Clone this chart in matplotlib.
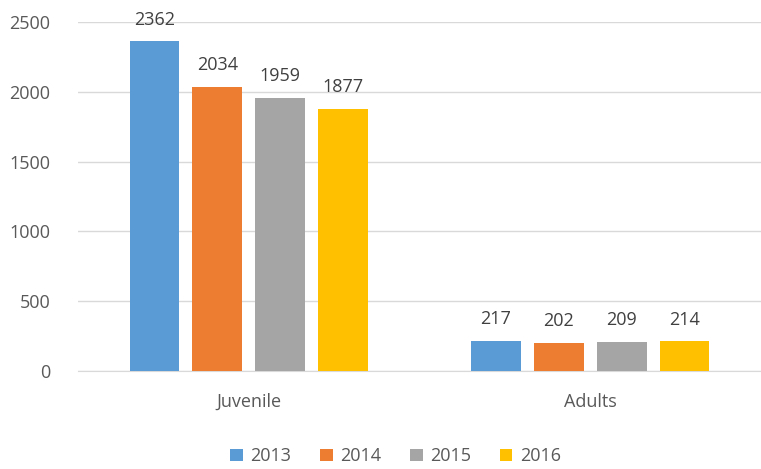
import numpy as np
import matplotlib.pyplot as plt

plt.rcParams['font.family'] = ['Open Sans', 'DejaVu Sans']

categories = ['Juvenile', 'Adults']
years = ['2013', '2014', '2015', '2016']
values = {
    '2013': [2362, 217],
    '2014': [2034, 202],
    '2015': [1959, 209],
    '2016': [1877, 214],
}
colors = ['#5B9BD5', '#ED7D31', '#A5A5A5', '#FFC000']

fig = plt.figure(figsize=(7.61, 4.69), dpi=100)
ax = fig.add_axes([78 / 761, 1 - 371 / 469, 683 / 761, 349 / 469])

x = np.arange(len(categories))
width = 0.146
step = 0.184

for i, (year, color) in enumerate(zip(years, colors)):
    offset = (i - 1.5) * step
    bars = ax.bar(x + offset, values[year], width, color=color, label=year, zorder=3)
    for b, v in zip(bars, values[year]):
        ax.text(b.get_x() + b.get_width() / 2, v + 90, str(v),
                ha='center', va='bottom', fontsize=13, color='#404040')

ax.set_xlim(-0.5, 1.5)
ax.set_ylim(0, 2500)
ax.set_yticks(range(0, 2501, 500))
ax.set_xticks(x)
ax.set_xticklabels(categories)
ax.yaxis.grid(True, color='#D9D9D9', linewidth=1, zorder=0)
ax.tick_params(axis='both', length=0, labelsize=13, colors='#595959')
ax.tick_params(axis='y', pad=20)
ax.tick_params(axis='x', pad=16)
for s in ['top', 'right', 'left']:
    ax.spines[s].set_visible(False)
ax.spines['bottom'].set_color('#D9D9D9')

ax.legend(loc='upper center', bbox_to_anchor=(0.465, -0.172), ncol=4, frameon=False,
          fontsize=13, handlelength=0.7, handleheight=0.7, columnspacing=1.6,
          handletextpad=0.4, labelcolor='#595959')

fig.savefig('out.png', dpi=100)
